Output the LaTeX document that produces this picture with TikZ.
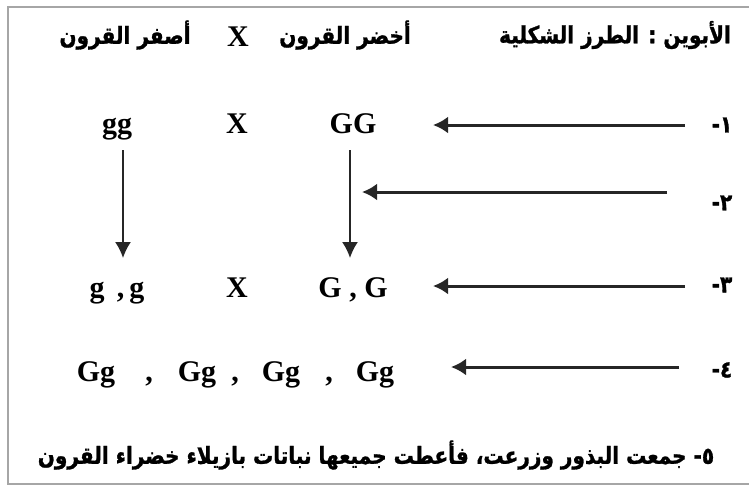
\documentclass[tikz,border=0pt]{standalone}
\usepackage{fontspec}
\setmainfont{Liberation Serif}
\newfontfamily\arabicfont[Script=Arabic, FakeStretch=0.85, BoldFeatures={FakeBold=1.2}]{DejaVu Sans}
\TeXXeTstate=1
\usetikzlibrary{arrows.meta}

\begin{document}
\begin{tikzpicture}[x=0.5pt,y=-0.5pt,
    allele/.style={font=\bfseries\fontsize{15}{18}\selectfont, inner sep=1pt, anchor=base},
    artext/.style={font=\arabicfont\bfseries\fontsize{11.8}{14}\selectfont, inner sep=1pt},
    harrow/.style={line width=1.5pt, black!85, -{Latex[length=7.5pt,width=8.5pt]}},
    varrow/.style={line width=0.9pt, black!85, -{Latex[length=8pt,width=8pt]}}]
    \useasboundingbox (0,0) rectangle (749,489);
    \draw[gray!70, line width=1.2pt] (749,7) -- (8,7) -- (8,484) -- (749,484);
    % header
    \node[artext] (hdr) at (615,35) {\beginR الأبوين : الطرز الشكلية\endR};
    \node[artext] (hgreen) at (345,35) {\beginR أخضر القرون\endR};
    \node[allele] (hcross) at (238,46) {X};
    \node[artext] (hyellow) at (125,35) {\beginR أصفر القرون\endR};
    % parents and gametes
    \node[allele] (gg) at (117,133) {gg};
    \node[allele] (cross1) at (237,133) {X};
    \node[allele] (GG) at (353,133) {GG};
    \node[allele] (gsplit) at (117,297) {g\,\ ,\,g};
    \node[allele] (cross2) at (237,297) {X};
    \node[allele] (Gsplit) at (353,297) {G\ ,\ G};
    % first generation
    \foreach \name/\x in {f1/96,f2/197,f3/281,f4/375} {\node[allele] (\name) at (\x,381) {Gg};}
    \foreach \name/\x in {c1/149,c2/235,c3/329} {\node[allele] (\name) at (\x,381) {,};}
    % step numbers
    \foreach \n/\d/\y in {1/١/125,2/٢/203,3/٣/285,4/٤/370} {\node[artext] (lab\n) at (722,\y) {\beginR \d-\endR};}
    \node[artext] (lab5) at (376,455) {\beginR ٥- جمعت البذور وزرعت، فأعطت جميعها نباتات بازيلاء خضراء القرون\endR};
    % arrow ends
    \foreach \n/\y/\xs/\xe in {1/125/685/433,2/192/667/362,3/286/685/433,4/367/679/451}
    {
        \coordinate (s\n) at (\xs,\y);
        \coordinate (e\n) at (\xe,\y);
        \draw[harrow] (s\n) -- (e\n);
    }
    \coordinate (v1) at (123,150); \coordinate (w1) at (123,258);
    \coordinate (v2) at (350,150); \coordinate (w2) at (350,258);
    \draw[varrow] (v1) -- (w1);
    \draw[varrow] (v2) -- (w2);
\end{tikzpicture}
\end{document}
